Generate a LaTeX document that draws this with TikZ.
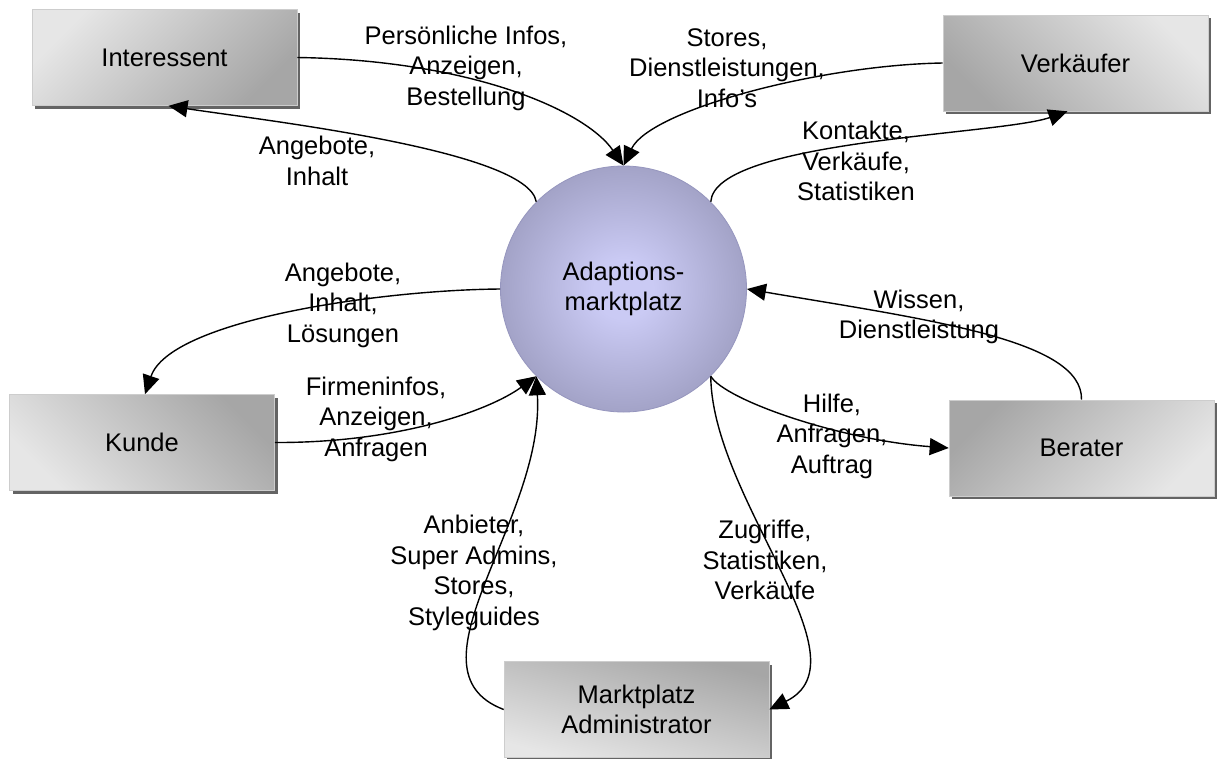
\documentclass[tikz,border=0pt]{standalone}
\usepackage{fontspec}
\setmainfont{Liberation Sans}
\usetikzlibrary{arrows.meta,shadows}

\definecolor{boxlight}{RGB}{230,230,230}
\definecolor{boxdark}{RGB}{166,166,166}
\definecolor{boxedge}{RGB}{205,205,205}
\definecolor{shadowgrey}{RGB}{100,100,100}
\definecolor{hubin}{RGB}{202,202,244}
\definecolor{hubout}{RGB}{132,132,164}
\definecolor{hubedge}{RGB}{150,150,190}
\pgfdeclareradialshading{hubshade}{\pgfpoint{0bp}{0bp}}{color(0bp)=(hubin); color(6bp)=(hubin); color(40bp)=(hubout); color(50bp)=(hubout)}

\tikzset{
  actor/.style={rectangle, minimum width=265pt, minimum height=96pt, inner sep=0pt,
    draw=boxedge, line width=0.6pt, align=center,
    font=\fontsize{25.5}{30}\selectfont,
    general shadow={fill=shadowgrey, draw=none, shadow xshift=3pt, shadow yshift=-3pt}},
  hubnode/.style={circle, minimum size=246pt, inner sep=0pt, shading=hubshade,
    draw=hubedge, line width=0.8pt, align=center, font=\fontsize{25.5}{30}\selectfont},
  lbl/.style={align=center, inner sep=0pt, font=\fontsize{25.5}{30.5}\selectfont},
  flow/.style={line width=1.4pt, -{Triangle[length=19pt,width=17pt]}}
}

\begin{document}
\begin{tikzpicture}[x=1pt,y=-1pt]
\useasboundingbox (0,0) rectangle (1221,758);
\fill[white] (0,0) rectangle (1221,758);

% participants
\node[actor, top color=boxlight, bottom color=boxdark, shading angle=45] (int) at (164.5,57.5) {Interessent};
\node[actor, top color=boxlight, bottom color=boxdark, shading angle=-45] (verk) at (1075.5,63) {Verkäufer};
\node[actor, top color=boxdark, bottom color=boxlight, shading angle=-45] (kunde) at (142,442.5) {Kunde};
\node[actor, top color=boxdark, bottom color=boxlight, shading angle=45] (berater) at (1081.5,448) {Berater};
\node[actor, top color=boxdark, bottom color=boxlight, shading angle=-15] (adm) at (636.5,709.5) {Marktplatz\\Administrator};

% central marketplace
\node[hubnode] (hub) at (623.5,289) {Adaptions-\\marktplatz};

% flows
\draw[flow] (int.east) .. controls (470,60) and (585,110) .. (hub.north);
\draw[flow] (verk.west) .. controls (820,65) and (650,110) .. (hub.north);
\draw[flow] (hub.135) .. controls (528,150) and (260,120) .. ([xshift=4pt]int.south);
\draw[flow] (hub.45) .. controls (715,140) and (1000,135) .. ([xshift=-8pt]verk.south);
\draw[flow] (hub.west) .. controls (380,290) and (170,320) .. ([xshift=3pt]kunde.north);
\draw[flow] (kunde.east) .. controls (400,443) and (490,410) .. (hub.225);
\draw[flow] (berater.north) .. controls (1083,340) and (930,320) .. (hub.east);
\draw[flow] (hub.-45) .. controls (725,400) and (840,440) .. (berater.west);
\draw[flow] (hub.-45) .. controls (712,500) and (870,660) .. (adm.east);
\draw[flow] (adm.west) .. controls (400,670) and (545,520) .. (hub.225);

% flow labels
\node[lbl] (l1) at (466,68) {Persönliche Infos,\\Anzeigen,\\Bestellung};
\node[lbl] (l2) at (727,68) {Stores,\\Dienstleistungen,\\Info's};
\node[lbl] (l3) at (317,161) {Angebote,\\Inhalt};
\node[lbl] (l4) at (856,161) {Kontakte,\\Verkäufe,\\Statistiken};
\node[lbl] (l5) at (343,305) {Angebote,\\Inhalt,\\Lösungen};
\node[lbl] (l6) at (376,419) {Firmeninfos,\\Anzeigen,\\Anfragen};
\node[lbl] (l7) at (919,317) {Wissen,\\Dienstleistung};
\node[lbl] (l8) at (832,436) {Hilfe,\\Anfragen,\\Auftrag};
\node[lbl] (l9) at (474,573) {Anbieter,\\Super Admins,\\Stores,\\Styleguides};
\node[lbl] (l10) at (765,560) {Zugriffe,\\Statistiken,\\Verkäufe};
\end{tikzpicture}
\end{document}
